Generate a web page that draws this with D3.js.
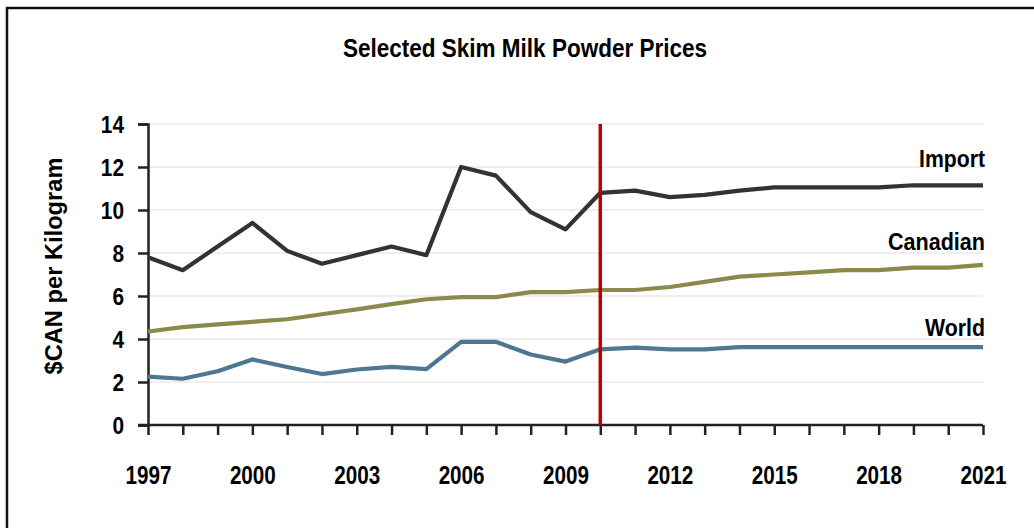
<!DOCTYPE html>
<html><head><meta charset="utf-8">
<script src="https://cdn.jsdelivr.net/npm/d3@7"></script>
<style>
html,body{margin:0;padding:0;background:#fff;}
svg{display:block;}
text{font-family:"Liberation Sans Narrow","Arial Narrow","Liberation Sans",Arial,sans-serif;font-weight:bold;fill:#000;}
</style></head>
<body>
<svg id="chart" width="1034" height="528"></svg>
<script>
const years = d3.range(1997, 2022);
const importPrices = [7.8,7.2,8.3,9.4,8.1,7.5,7.9,8.3,7.9,12.0,11.6,9.9,9.1,10.8,10.9,10.6,10.7,10.9,11.05,11.05,11.05,11.05,11.15,11.15,11.15];
const canadianPrices = [4.35,4.55,4.68,4.8,4.92,5.15,5.38,5.62,5.85,5.95,5.95,6.18,6.18,6.28,6.28,6.42,6.66,6.9,7.0,7.1,7.2,7.2,7.32,7.32,7.45];
const worldPrices = [2.25,2.15,2.5,3.05,2.7,2.37,2.58,2.7,2.6,3.87,3.87,3.28,2.95,3.52,3.6,3.52,3.52,3.62,3.62,3.62,3.62,3.62,3.62,3.62,3.62];
const yTicks = [0,2,4,6,8,10,12,14];
const xLabelYears = [1997,2000,2003,2006,2009,2012,2015,2018,2021];
const seriesNames = ["Import","Canadian","World"];
const seriesColors = ["#333333","#8c8a4b","#4e7891"];
const forecastYear = 2010;
const title = "Selected Skim Milk Powder Prices";
const yTitle = "$CAN per Kilogram";

const svg = d3.select("#chart");
const x = d3.scaleLinear().domain([1997,2021]).range([148,983]);
const y = d3.scaleLinear().domain([0,14]).range([425,124]);

// frame
svg.append("rect").attr("x",7).attr("y",8).attr("width",1040).attr("height",540)
  .attr("fill","none").attr("stroke","#111").attr("stroke-width",2.5);

// title
svg.append("text").attr("x",525).attr("y",57).attr("text-anchor","middle")
  .attr("font-size",26).attr("textLength",364).attr("lengthAdjust","spacingAndGlyphs").text(title);

// gridlines
svg.append("g").selectAll("line").data(yTicks.filter(d=>d>0)).join("line")
  .attr("x1",x(1997)).attr("x2",x(2021)).attr("y1",d=>y(d)).attr("y2",d=>y(d))
  .attr("stroke","#dedede").attr("stroke-width",1);

// y axis
const yAxis = svg.append("g").attr("transform",`translate(${x(1997)},0)`)
  .call(d3.axisLeft(y).tickValues(yTicks).tickSize(10).tickPadding(14).tickFormat(d3.format("d")));
yAxis.select(".domain").attr("stroke","#222").attr("stroke-width",2.5);
yAxis.selectAll(".tick line").attr("stroke","#222").attr("stroke-width",2.5);
yAxis.selectAll(".tick text").attr("font-size",24.5).attr("font-family",null).attr("dy","0.36em")
  .attr("textLength",function(){return this.textContent.length*11.6;}).attr("lengthAdjust","spacingAndGlyphs");

// x axis
const xAxis = svg.append("g").attr("transform",`translate(0,${y(0)})`)
  .call(d3.axisBottom(x).tickValues(years).tickSize(10).tickFormat(d=>xLabelYears.includes(d)?d:""));
xAxis.select(".domain").attr("stroke","#222").attr("stroke-width",2.5).attr("d",`M${x(1997)-10},0H${x(2021)}`);
xAxis.selectAll(".tick line").attr("stroke","#222").attr("stroke-width",2.5);
xAxis.selectAll(".tick text").attr("font-size",26).attr("font-family",null).attr("dy",0).attr("y",58.5)
  .filter(function(){return this.textContent.length>0;})
  .attr("textLength",46).attr("lengthAdjust","spacingAndGlyphs");

// y title
svg.append("text").attr("transform",`translate(62,266) rotate(-90)`).attr("text-anchor","middle")
  .attr("font-size",23).attr("textLength",217).attr("lengthAdjust","spacingAndGlyphs").text(yTitle);

// lines
const line = d3.line().x((d,i)=>x(years[i])).y(d=>y(d));
const allSeries = [importPrices, canadianPrices, worldPrices];
svg.append("g").selectAll("path").data(allSeries).join("path")
  .attr("d",line).attr("fill","none").attr("stroke",(d,i)=>seriesColors[i])
  .attr("stroke-width",4.2).attr("stroke-linejoin","round");

// forecast line
svg.append("line").attr("x1",x(forecastYear)).attr("x2",x(forecastYear))
  .attr("y1",y(14)).attr("y2",y(0)).attr("stroke","#c00000").attr("stroke-width",3.5);

// series labels
const labelBaselines = [167,250,336];
const labelWidths = [66,97,60];
svg.append("g").selectAll("text").data(seriesNames).join("text")
  .attr("x",985).attr("y",(d,i)=>labelBaselines[i]).attr("text-anchor","end")
  .attr("font-size",24.5).attr("textLength",(d,i)=>labelWidths[i]).attr("lengthAdjust","spacingAndGlyphs")
  .text(d=>d);
</script>
</body></html>
